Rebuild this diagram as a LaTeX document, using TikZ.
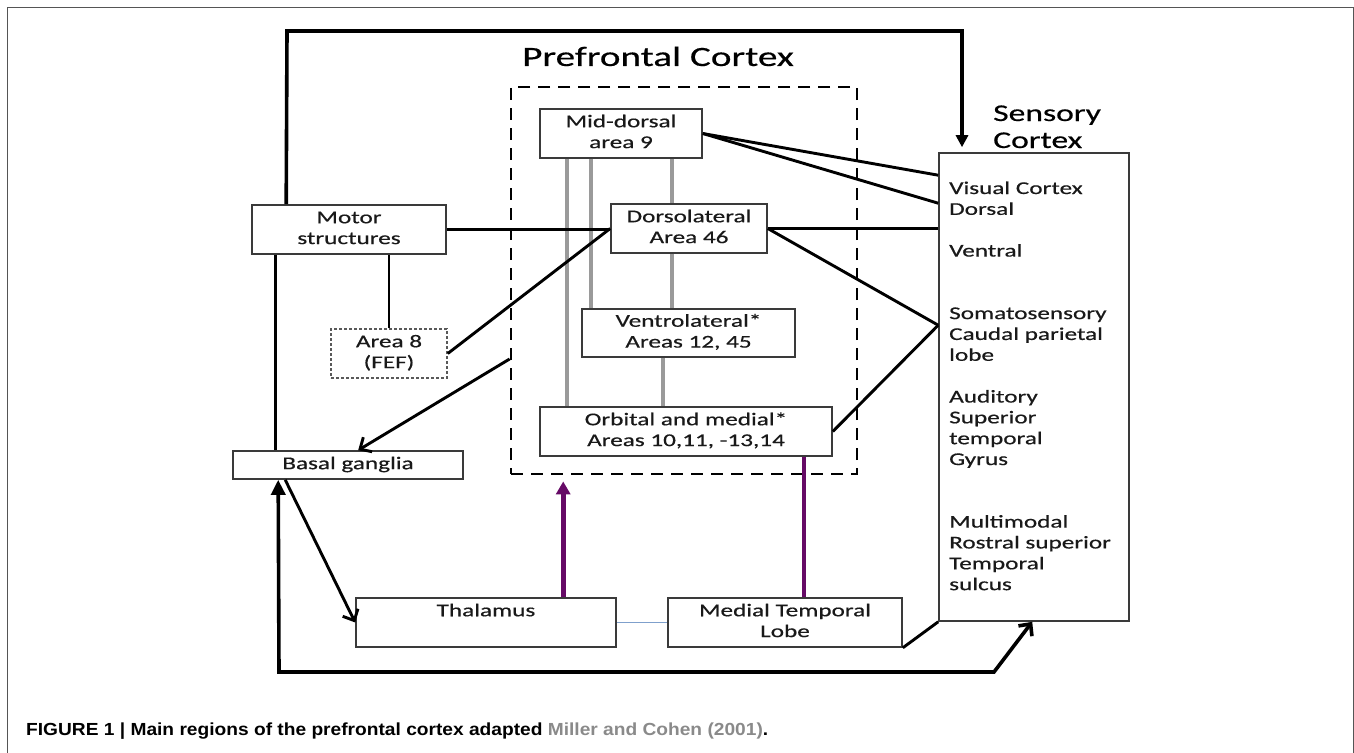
\documentclass[tikz,border=0pt]{standalone}
\usepackage{fontspec}
\setmainfont{Carlito}[FakeBold=0.4]
\newfontfamily\capfont{Liberation Sans}
\usetikzlibrary{arrows.meta,calc}
\definecolor{boxline}{HTML}{3A3A3A}
\definecolor{pgray}{HTML}{9A9A9A}
\definecolor{purp}{HTML}{660A66}
\definecolor{lblue}{HTML}{7FA0CC}
\definecolor{citegray}{HTML}{8A8A8A}
\definecolor{framegray}{HTML}{555555}
\newcommand\hs[1]{\scalebox{1.4}[1]{#1}}
\newcommand\tx[1]{\hs{\begin{tabular}{@{}c@{}}#1\end{tabular}}}
\tikzset{
  box/.style={draw=boxline, line width=1.6pt, fill=white, inner sep=0pt,
    text=black!90, font=\fontsize{18}{20.85}\selectfont},
  conn/.style={line width=2.9pt, line join=round},
  heavy/.style={line width=3.6pt, line join=miter},
  gline/.style={pgray, line width=4pt},
  barb/.style={-{Straight Barb[length=9pt,width=17pt]}},
}
\begin{document}
\begin{tikzpicture}[x=1pt,y=-1pt]
\useasboundingbox (0,0) rectangle (1354,752);
% outer frame
\draw[framegray, line width=1pt] (7,760) -- (7,8) -- (1353,8) -- (1353,760);

% prefrontal dashed box
\node[draw, line width=2.8pt, dash pattern=on 12pt off 8pt, minimum width=346pt, minimum height=387pt, inner sep=0pt] (pfc) at (684,280.5) {};
\node[anchor=base, font=\fontsize{28}{32}\selectfont] (title) at (658,66) {\scalebox{1.4}[1]{Prefrontal Cortex}};

% boxes
\node[box, minimum width=162pt, minimum height=49pt] (middorsal) at (621,133.5) {\tx{Mid-dorsal\\area 9}};
\node[box, minimum width=156pt, minimum height=49pt] (dorsolat) at (689,228.5) {\tx{Dorsolateral\\Area 46}};
\node[box, minimum width=213pt, minimum height=48pt] (ventrolat) at (688.5,333) {\tx{Ventrolateral*\\Areas 12, 45}};
\node[box, minimum width=292pt, minimum height=49pt] (orbital) at (686,431.5) {\tx{Orbital and medial*\\Areas 10,11, -13,14}};
\node[box, minimum width=194pt, minimum height=49pt] (motor) at (349,229.5) {\tx{Motor\\structures}};
\node[box, draw=black!65, dash pattern=on 3pt off 2pt, minimum width=116pt, minimum height=49pt] (area8) at (389,353.5) {\tx{Area 8\\(FEF)}};
\node[box, minimum width=230pt, minimum height=28pt] (basal) at (348,465) {\tx{Basal ganglia}};
\node[box, minimum width=260pt, minimum height=49pt] (thalamus) at (486,622.5) {\tx{Thalamus\\ \mbox{}}};
\node[box, minimum width=234pt, minimum height=49pt] (mtl) at (785,622.5) {\tx{Medial Temporal\\Lobe}};
\node[box, minimum width=190pt, minimum height=468pt] (sensory) at (1034,387) {};
\node[anchor=base west, inner sep=0pt, font=\fontsize{18}{20.85}\selectfont, text=black!90] (senstext) at (949,194)
  {\hs{\begin{tabular}[t]{@{}l@{}}Visual Cortex\\Dorsal\\ \mbox{}\\Ventral\\ \mbox{}\\ \mbox{}\\Somatosensory\\Caudal parietal\\lobe\\ \mbox{}\\Auditory\\Superior\\temporal\\Gyrus\\ \mbox{}\\ \mbox{}\\Multimodal\\Rostral superior\\Temporal\\sulcus\end{tabular}}};
\node[anchor=base west, inner sep=0pt, font=\fontsize{24}{27}\selectfont] (senslabel) at (993,121)
  {\hs{\begin{tabular}[t]{@{}l@{}}Sensory\\Cortex\end{tabular}}};

% gray intra-PFC connections
\draw[gline] ([xshift=28pt]middorsal.south west) -- ([xshift=28pt]middorsal.south west |- orbital.north);
\draw[gline] ([xshift=52pt]middorsal.south west) -- ([xshift=52pt]middorsal.south west |- ventrolat.north);
\draw[gline] ([xshift=133pt]middorsal.south west) -- ([xshift=133pt]middorsal.south west |- dorsolat.north);
\draw[gline] ([xshift=62pt]dorsolat.south west) -- ([xshift=62pt]dorsolat.south west |- ventrolat.north);
\draw[gline] ([xshift=82pt]ventrolat.south west) -- ([xshift=82pt]ventrolat.south west |- orbital.north);

% big top loop
\coordinate (topL) at (287,31);
\coordinate (topR) at (962,31);
\draw[heavy, -{Triangle[length=12pt,width=12pt]}, shorten >=5pt] ([xshift=35pt]motor.north west) -- (topL) -- (topR) -- (topR |- sensory.north);

% motor connections
\draw[conn] ([xshift=24pt]motor.south west) -- ([xshift=24pt]motor.south west |- basal.north);
\draw[conn] (area8.north) -- (area8.north |- motor.south);
\draw[conn] (motor.east) -- (motor.east -| dorsolat.west);
\draw[conn] (area8.east) -- (dorsolat.west);
\draw[conn, barb] ([yshift=-78.5pt]pfc.west) -- ([xshift=126pt]basal.north west);

% to sensory cortex
\draw[conn] (middorsal.east) -- ([yshift=-23pt]sensory.north west);
\draw[conn] (middorsal.east) -- ([yshift=-51pt]sensory.north west);
\draw[conn] (dorsolat.east) -- (dorsolat.east -| sensory.west);
\draw[conn] (dorsolat.east) -- ([yshift=-173pt]sensory.north west);
\draw[conn] (orbital.east) -- ([yshift=-173pt]sensory.north west);
\draw[conn] (mtl.south east) -- (sensory.south west);

% bottom loop
\coordinate (botL) at (279,672);
\coordinate (botR) at (994,672);
\draw[heavy, {Triangle[length=15pt,width=14pt]}-{Straight Barb[length=9pt,width=17pt]}] ([xshift=46pt]basal.south west) -- (botL) -- (botR) -- ([xshift=94pt]sensory.south west);
\draw[conn, barb] ([xshift=53pt]basal.south west) -- (thalamus.west);

% thalamus / MTL
\draw[purp, line width=5pt, -{Triangle[length=13pt,width=14pt]}, shorten >=6pt] ([xshift=208pt]thalamus.north west) -- ([xshift=208pt]thalamus.north west |- pfc.south);
\draw[purp, line width=3.5pt] ([xshift=137pt]mtl.north west) -- ([xshift=137pt]mtl.north west |- orbital.south);
\draw[lblue, line width=1.6pt] (thalamus.east) -- (mtl.west);

% caption
\node[anchor=base west, inner sep=0pt] (caption) at (26,735)
  {\resizebox{742pt}{\height}{\capfont\bfseries\fontsize{17.5}{20}\selectfont FIGURE 1 | Main regions of the prefrontal cortex adapted \textcolor{citegray}{Miller and Cohen (2001)}.}};
\end{tikzpicture}
\end{document}
